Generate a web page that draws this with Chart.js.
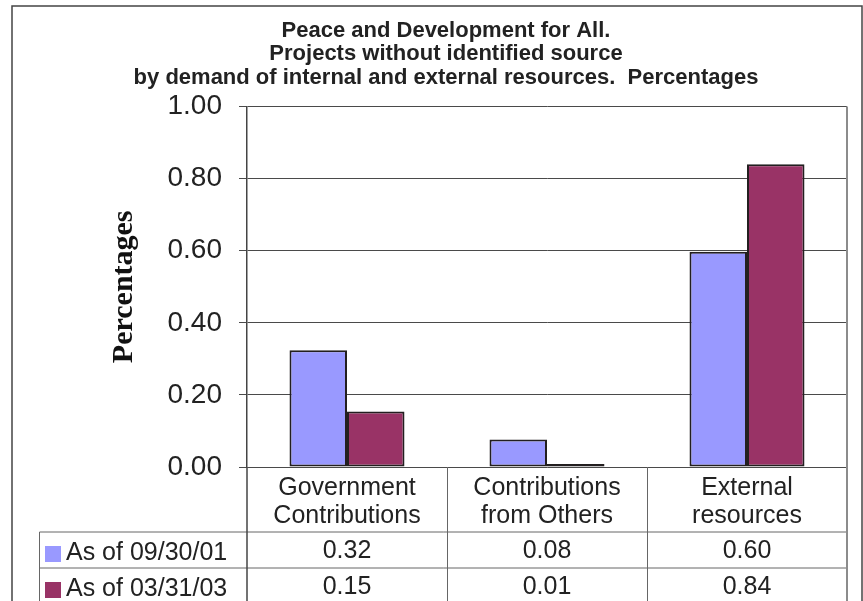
<!DOCTYPE html>
<html>
<head>
<meta charset="utf-8">
<title>Peace and Development for All</title>
<script src="https://cdn.jsdelivr.net/npm/chart.js@4.4.1/dist/chart.umd.min.js"></script>
<style>
  html, body { margin: 0; padding: 0; background: #fff; }
</style>
</head>
<body>
<canvas id="chart-sources" width="863" height="601"></canvas>
<script>
// categories and series
const categories = [['Government', 'Contributions'], ['Contributions', 'from Others'], ['External', 'resources']]
const seriesNames = ['As of 09/30/01', 'As of 03/31/03']
const valuesSep2001 = [0.324, 0.076, 0.597]
const valuesMar2003 = [0.154, 0.008, 0.840]
const seriesColors = ['#9999ff', '#993366']
const titleLines = [
  'Peace and Development for All.',
  'Projects without identified source',
  'by demand of internal and external resources.  Percentages'
]

const SANS = '"Liberation Sans", Arial, sans-serif'
const tableLeft = 39.5
const rowTops = [532, 568]
const rowH = 36

function line(ctx, x1, y1, x2, y2) {
  ctx.beginPath()
  ctx.moveTo(x1, y1)
  ctx.lineTo(x2, y2)
  ctx.stroke()
}

// outer frame + the data table under the x axis
const dataTablePlugin = {
  id: 'dataTable',
  beforeDraw(chart) {
    const ctx = chart.ctx
    ctx.save()
    ctx.fillStyle = '#fff'
    ctx.fillRect(0, 0, chart.width, chart.height)
    ctx.strokeStyle = '#444'
    ctx.lineWidth = 1.5
    ctx.strokeRect(12, 6, 850, chart.height + 10)
    ctx.restore()
  },
  afterDraw(chart) {
    const ctx = chart.ctx
    const area = chart.chartArea
    const xs = chart.scales.x
    const colW = (area.right - area.left) / categories.length
    const bottom = chart.height
    const rows = [valuesSep2001, valuesMar2003]
    ctx.save()

    ctx.strokeStyle = '#666'
    ctx.lineWidth = 1
    rowTops.forEach(y => line(ctx, tableLeft, y, area.right, y))
    line(ctx, tableLeft, rowTops[0], tableLeft, bottom)
    for (let i = 1; i < categories.length; i++) {
      const x = Math.round(area.left + i * colW) + 0.5
      line(ctx, x, area.bottom, x, bottom)
    }
    ctx.strokeStyle = '#444'
    ctx.lineWidth = 1.5
    line(ctx, area.left, area.bottom, area.left, bottom)
    ctx.strokeStyle = '#8c8c8c'
    ctx.lineWidth = 2
    line(ctx, area.right, area.top, area.right, bottom)

    ctx.fillStyle = '#222'
    ctx.textBaseline = 'middle'
    ctx.textAlign = 'center'
    ctx.font = '25px ' + SANS
    rows.forEach((vals, r) => {
      vals.forEach((v, i) => {
        ctx.fillText(v.toFixed(2), xs.getPixelForValue(i), rowTops[r] + rowH / 2 + 1)
      })
    })

    ctx.textAlign = 'left'
    ctx.font = '25px ' + SANS
    seriesNames.forEach((name, r) => {
      ctx.fillStyle = seriesColors[r]
      ctx.fillRect(45, rowTops[r] + 14, 16, 16)
      ctx.fillStyle = '#222'
      ctx.fillText(name, 66, rowTops[r] + rowH / 2 + 3)
    })
    ctx.restore()
  }
}

const config = {
  type: 'bar',
  data: {
    labels: categories,
    datasets: [
      {
        label: seriesNames[0],
        data: valuesSep2001,
        backgroundColor: seriesColors[0],
        borderColor: '#231f20',
        borderWidth: 2,
        borderSkipped: false,
      },
      {
        label: seriesNames[1],
        data: valuesMar2003,
        backgroundColor: seriesColors[1],
        borderColor: '#231f20',
        borderWidth: 2,
        borderSkipped: false,
      },
    ],
  },
  options: {
    responsive: false,
    animation: false,
    devicePixelRatio: 1,
    categoryPercentage: 0.575,
    barPercentage: 1,
    layout: { padding: { left: 45, top: 6, right: 16, bottom: 0 } },
    plugins: {
      legend: { display: false },
      tooltip: { enabled: false },
      title: {
        display: true,
        text: titleLines,
        color: '#222',
        font: { family: SANS, size: 22, weight: 'bold', lineHeight: 1.07 },
        padding: { top: 13, bottom: 17 },
      },
    },
    scales: {
      x: {
        grid: { display: false, drawTicks: false },
        border: { display: false },
        ticks: {
          color: '#222',
          padding: 7,
          maxRotation: 0,
          font: { family: SANS, size: 25, lineHeight: 1.12 },
        },
        afterFit: scale => { scale.height = 134 },
      },
      y: {
        min: 0,
        max: 1,
        ticks: {
          stepSize: 0.2,
          color: '#222',
          padding: 17,
          font: { family: SANS, size: 28 },
          callback: v => v.toFixed(2),
        },
        grid: { color: '#4a4a4a', lineWidth: 1, tickLength: 8 },
        border: { color: '#444', width: 1.5 },
        title: {
          display: true,
          text: 'Percentages',
          color: '#111',
          padding: { top: 61, bottom: 0 },
          font: { family: '"Liberation Serif", "Times New Roman", serif', size: 30, weight: 'bold', lineHeight: 1.2 },
        },
        afterFit: scale => { scale.width = 202 },
      },
    },
  },
  plugins: [dataTablePlugin],
}

const chartEl = document.getElementById('chart-sources')
window.myBar = new Chart(chartEl, config)
</script>
</body>
</html>
